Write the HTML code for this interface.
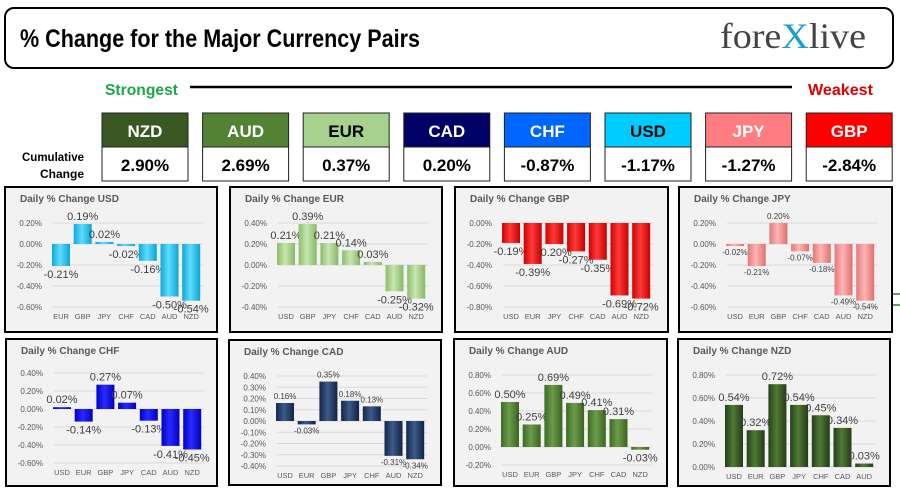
<!DOCTYPE html>
<html><head><meta charset="utf-8">
<style>
html,body{margin:0;padding:0;background:#fff;}
svg{display:block;font-family:"Liberation Sans",sans-serif;}
</style></head>
<body>
<svg id="root" width="900" height="499" viewBox="0 0 900 499">
<defs>
<linearGradient id="gUSD" x1="0" x2="1"><stop offset="0" stop-color="#0fa9d6"/><stop offset="0.45" stop-color="#5fdcff"/><stop offset="1" stop-color="#0aa6d4"/></linearGradient>
<linearGradient id="gEUR" x1="0" x2="1"><stop offset="0" stop-color="#8bbd6a"/><stop offset="0.45" stop-color="#c7e6b0"/><stop offset="1" stop-color="#86b866"/></linearGradient>
<linearGradient id="gGBP" x1="0" x2="1"><stop offset="0" stop-color="#d00000"/><stop offset="0.45" stop-color="#ff3a3a"/><stop offset="1" stop-color="#c80000"/></linearGradient>
<linearGradient id="gJPY" x1="0" x2="1"><stop offset="0" stop-color="#e47878"/><stop offset="0.45" stop-color="#ffb4b4"/><stop offset="1" stop-color="#df7070"/></linearGradient>
<linearGradient id="gCHF" x1="0" x2="1"><stop offset="0" stop-color="#0000c8"/><stop offset="0.45" stop-color="#2a2aff"/><stop offset="1" stop-color="#0000c0"/></linearGradient>
<linearGradient id="gCAD" x1="0" x2="1"><stop offset="0" stop-color="#13264a"/><stop offset="0.45" stop-color="#3d5a8a"/><stop offset="1" stop-color="#112244"/></linearGradient>
<linearGradient id="gAUD" x1="0" x2="1"><stop offset="0" stop-color="#3f6a25"/><stop offset="0.45" stop-color="#6b9c4a"/><stop offset="1" stop-color="#3b6322"/></linearGradient>
<linearGradient id="gNZD" x1="0" x2="1"><stop offset="0" stop-color="#26401a"/><stop offset="0.45" stop-color="#4f7a36"/><stop offset="1" stop-color="#233c17"/></linearGradient>
</defs>
<rect x="5" y="8" width="888" height="60" rx="9" fill="#fff" stroke="#000" stroke-width="2"/>
<text x="20" y="47" font-size="25" font-weight="bold" textLength="400" lengthAdjust="spacingAndGlyphs" fill="#000">% Change for the Major Currency Pairs</text>
<text x="720" y="48" font-family="Liberation Serif, serif" font-size="36" fill="#444" textLength="146" lengthAdjust="spacingAndGlyphs">fore<tspan fill="#1a9ad6">X</tspan>live</text>
<text x="105" y="95" font-size="16" font-weight="bold" fill="#1aa84a" textLength="73" lengthAdjust="spacingAndGlyphs">Strongest</text>
<line x1="190" y1="87" x2="792" y2="87" stroke="#000" stroke-width="2.5"/>
<text x="808" y="95" font-size="16" font-weight="bold" fill="#e00000" textLength="65" lengthAdjust="spacingAndGlyphs">Weakest</text>
<text x="22" y="161" font-size="12" font-weight="bold" fill="#000" textLength="62" lengthAdjust="spacingAndGlyphs">Cumulative</text>
<text x="40" y="178" font-size="12" font-weight="bold" fill="#000" textLength="44" lengthAdjust="spacingAndGlyphs">Change</text>
<g id="boxes"></g>
<g id="panels"></g>
<line x1="893" y1="294" x2="900" y2="294" stroke="#2e7d32" stroke-width="1.5"/>
<line x1="893" y1="305" x2="900" y2="305" stroke="#2e7d32" stroke-width="1.5"/>
</svg>
<script>
var rankCurrencies = ["NZD","AUD","EUR","CAD","CHF","USD","JPY","GBP"];
var rankValues = [2.90, 2.69, 0.37, 0.20, -0.87, -1.17, -1.27, -2.84];

var usdCats = ["EUR","GBP","JPY","CHF","CAD","AUD","NZD"];
var usdVals = [-0.21, 0.19, 0.02, -0.02, -0.16, -0.50, -0.54];
var usdTicks = [0.2, 0, -0.2, -0.4, -0.6];
var eurCats = ["USD","GBP","JPY","CHF","CAD","AUD","NZD"];
var eurVals = [0.21, 0.39, 0.21, 0.14, 0.03, -0.25, -0.32];
var eurTicks = [0.4, 0.2, 0, -0.2, -0.4];
var gbpCats = ["USD","EUR","JPY","CHF","CAD","AUD","NZD"];
var gbpVals = [-0.19, -0.39, -0.20, -0.27, -0.35, -0.69, -0.72];
var gbpTicks = [0, -0.2, -0.4, -0.6, -0.8];
var jpyCats = ["USD","EUR","GBP","CHF","CAD","AUD","NZD"];
var jpyVals = [-0.02, -0.21, 0.20, -0.07, -0.18, -0.49, -0.54];
var jpyTicks = [0.2, 0, -0.2, -0.4, -0.6];
var chfCats = ["USD","EUR","GBP","JPY","CAD","AUD","NZD"];
var chfVals = [0.02, -0.14, 0.27, 0.07, -0.13, -0.41, -0.45];
var chfTicks = [0.4, 0.2, 0, -0.2, -0.4, -0.6];
var cadCats = ["USD","EUR","GBP","JPY","CHF","AUD","NZD"];
var cadVals = [0.16, -0.03, 0.35, 0.18, 0.13, -0.31, -0.34];
var cadTicks = [0.4, 0.3, 0.2, 0.1, 0, -0.1, -0.2, -0.3, -0.4];
var audCats = ["USD","EUR","GBP","JPY","CHF","CAD","NZD"];
var audVals = [0.50, 0.25, 0.69, 0.49, 0.41, 0.31, -0.03];
var audTicks = [0.8, 0.6, 0.4, 0.2, 0, -0.2];
var nzdCats = ["USD","EUR","GBP","JPY","CHF","CAD","AUD"];
var nzdVals = [0.54, 0.32, 0.72, 0.54, 0.45, 0.34, 0.03];
var nzdTicks = [0.8, 0.6, 0.4, 0.2, 0];

var NS = "http://www.w3.org/2000/svg";
function mk(tag, attrs, parent, txt){
  var e = document.createElementNS(NS, tag);
  for (var k in attrs) e.setAttribute(k, attrs[k]);
  if (txt !== undefined) e.textContent = txt;
  parent.appendChild(e); return e;
}
var boxColors = {NZD:"#385723",AUD:"#548235",EUR:"#a9d18e",CAD:"#000066",CHF:"#0066ff",USD:"#00ccff",JPY:"#ff7c80",GBP:"#ff0000"};
var boxText = {EUR:"#000",USD:"#000"};
var boxesG = document.getElementById("boxes");
rankCurrencies.forEach(function(c, i){
  var x = 102 + i*100.6;
  var h = mk("rect",{x:x,y:113,width:86,height:34,fill:boxColors[c],stroke:"#222","stroke-width":1},boxesG);
  
  
  var t = mk("text",{x:x+43,y:137,"font-size":17,"font-weight":"bold","text-anchor":"middle",fill:boxText[c]||"#fff"},boxesG,c);
  
  
  var v = mk("rect",{x:x,y:147,width:86,height:34,fill:"#fff",stroke:"#222","stroke-width":1},boxesG);
  
  
  var vt = mk("text",{x:x+43,y:171,"font-size":17,"font-weight":"bold","text-anchor":"middle",fill:"#000"},boxesG,rankValues[i].toFixed(2)+"%");
  
  
});

var panels = [
  {cur:"USD",cats:usdCats,vals:usdVals,ticks:usdTicks,x:5,y:187,w:212,h:145,top:36,bot:120,lf:11},
  {cur:"EUR",cats:eurCats,vals:eurVals,ticks:eurTicks,x:230,y:187,w:212,h:145,top:36,bot:120,lf:11},
  {cur:"GBP",cats:gbpCats,vals:gbpVals,ticks:gbpTicks,x:455,y:187,w:213,h:145,top:36,bot:120,lf:11},
  {cur:"JPY",cats:jpyCats,vals:jpyVals,ticks:jpyTicks,x:679,y:187,w:213,h:145,top:36,bot:120,lf:8},
  {cur:"CHF",cats:chfCats,vals:chfVals,ticks:chfTicks,x:6,y:339,w:211,h:147,top:34,bot:124,lf:11},
  {cur:"CAD",cats:cadCats,vals:cadVals,ticks:cadTicks,x:229,y:340,w:212,h:145,top:36,bot:126,lf:8},
  {cur:"AUD",cats:audCats,vals:audVals,ticks:audTicks,x:454,y:339,w:213,h:147,top:36,bot:126,lf:11},
  {cur:"NZD",cats:nzdCats,vals:nzdVals,ticks:nzdTicks,x:678,y:339,w:212,h:147,top:36,bot:128,lf:11}
];
var panelsG = document.getElementById("panels");
panels.forEach(function(p){
  var g = mk("g",{},panelsG);
  
  
  var bg = mk("rect",{x:p.x,y:p.y,width:p.w,height:p.h,fill:"#f2f2f2",stroke:"#000","stroke-width":2},g);
  
  
  var ti = mk("text",{x:p.x+15,y:p.y+15,"font-size":10,"font-weight":"bold",fill:"#595959"},g,"Daily % Change "+p.cur);
  
  
  var tmax = p.ticks[0], tmin = p.ticks[p.ticks.length-1];
  var y0 = p.y+p.top, y1 = p.y+p.bot;
  function yScale(v){ return y0 + (tmax - v)/(tmax - tmin)*(y1-y0); }
  var pitch = 21.7, cx0 = p.x + 56;
  function xScale(i){ return cx0 + i*pitch; }
  p.ticks.forEach(function(t){
    var yy = yScale(t);
    var gl = mk("line",{x1:p.x+48,x2:p.x+198,y1:yy,y2:yy,stroke:"#d9d9d9","stroke-width":1},g);
    
    
    var tl = mk("text",{x:p.x+37,y:yy+3,"font-size":8,"text-anchor":"end",fill:"#595959"},g,t.toFixed(2)+"%");
    
    
  });
  var zy = yScale(0);
  p.vals.forEach(function(v,i){
    var cx = xScale(i), yv = yScale(v);
    var r = mk("rect",{x:cx-9,y:Math.min(zy,yv),width:18,height:Math.max(1.5,Math.abs(yv-zy)),fill:"url(#g"+p.cur+")"},g);
    
    
    var ly = v >= 0 ? Math.min(zy,yv) - 4 : Math.max(zy,yv) + p.lf + 1;
    var lb = mk("text",{x:cx,y:ly,"font-size":p.lf,"text-anchor":"middle",fill:"#404040"},g,v.toFixed(2)+"%");
    
    
    var cl = mk("text",{x:cx,y:p.y+p.bot+12,"font-size":7.5,"text-anchor":"middle",fill:"#595959"},g,p.cats[i]);
    
    
  });
});
</script>
</body></html>
